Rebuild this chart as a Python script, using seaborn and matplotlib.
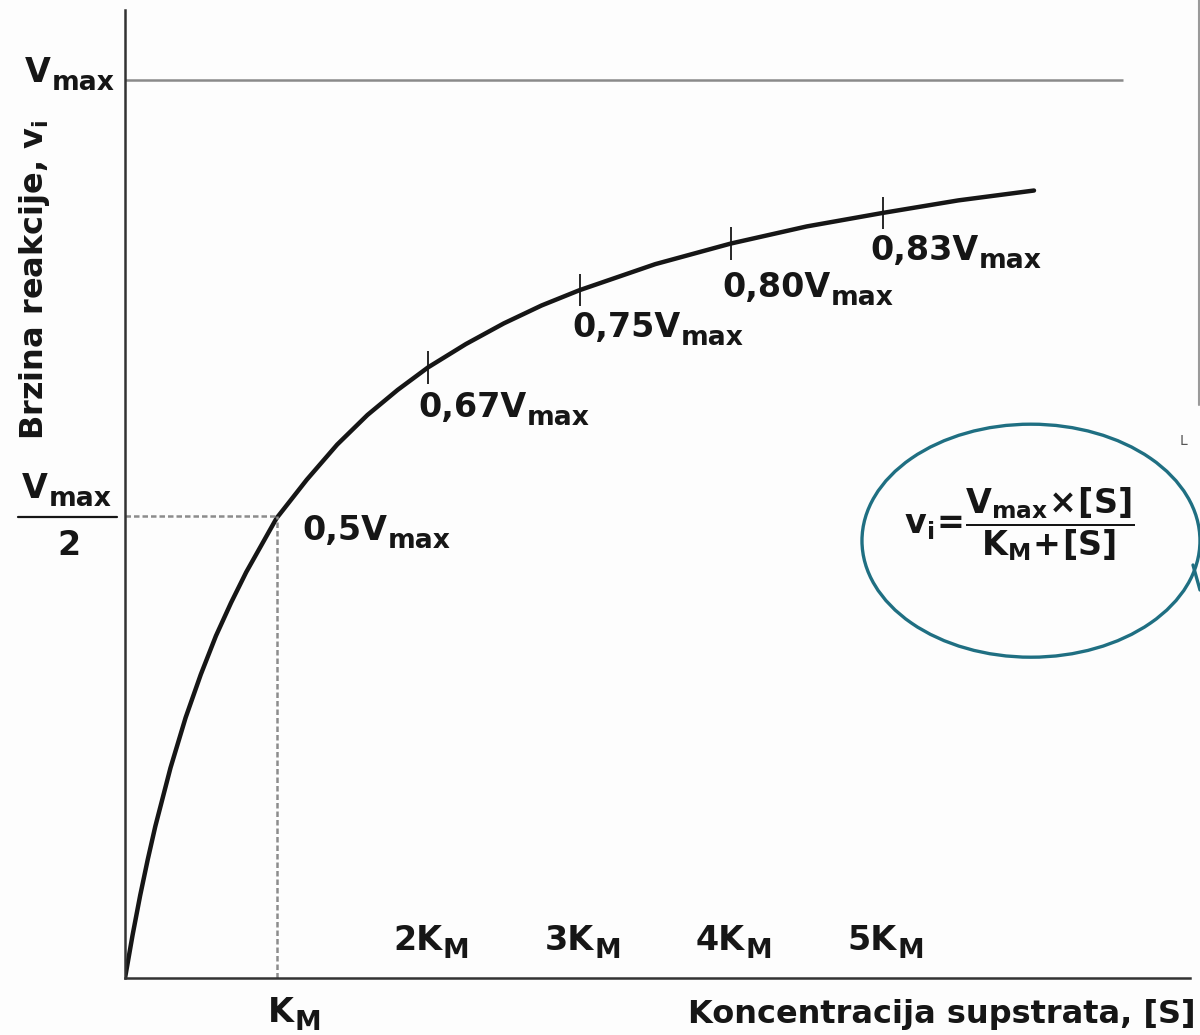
import numpy as np
import pandas as pd
import matplotlib
matplotlib.use("Agg")
import matplotlib.pyplot as plt
from matplotlib.patches import Ellipse
from matplotlib.lines import Line2D
import seaborn as sns

# --- values (S in units of KM, v in units of Vmax) ---
s_vals = [0, 0.05, 0.1, 0.15, 0.2, 0.3, 0.4, 0.5, 0.6, 0.7, 0.8, 0.9, 1.0, 1.2, 1.4, 1.6, 1.8,
          2.0, 2.25, 2.5, 2.75, 3.0, 3.5, 4.0, 4.5, 5.0, 5.5, 6.0]
v_vals = [0, 0.048, 0.092, 0.132, 0.169, 0.234, 0.290, 0.338, 0.381, 0.418, 0.452, 0.482, 0.512,
          0.555, 0.594, 0.627, 0.655, 0.680, 0.706, 0.729, 0.749, 0.766, 0.795, 0.818, 0.837,
          0.852, 0.866, 0.877]

km_v = 0.514                      # curve height at S = KM
mark_s = [2, 3, 4, 5]             # small ticks on the curve
mark_v = [0.680, 0.766, 0.818, 0.852]
mark_labels = ["0,67V", "0,75V", "0,80V", "0,83V"]
mark_label_pos = [(1.934, 0.625), (2.950, 0.714), (3.941, 0.758), (4.917, 0.800)]

x_ticks = [1, 2, 3, 4, 5, 6, 7]
top_tick_labels = ["2K", "3K", "4K", "5K"]

df = pd.DataFrame({"S": s_vals, "v": v_vals})

sns.set_style("white")
plt.rcParams["font.family"] = ["DejaVu Sans"]
plt.rcParams["font.weight"] = "bold"
plt.rcParams["mathtext.fontset"] = "dejavusans"
plt.rcParams["mathtext.default"] = "bf"

fig = plt.figure(figsize=(12, 10.35), dpi=100, facecolor="#fdfdfd")
ax = fig.add_axes([0.1042, 0.0551, 0.8875, 0.9352])
ax.set_facecolor("#fdfdfd")

ink = "#161616"
fs = 24


def sub_label(x, y, main, sub, size=fs, transform=None, scale=0.8, drop=-0.8):
    # main text plus a large, lowered subscript drawn right after it
    t = ax.text(x, y, main, fontsize=size, color=ink, ha="left", va="baseline",
                transform=transform or ax.transData, clip_on=False)
    ax.annotate(sub, xy=(1, 0), xycoords=t, xytext=(0.3, drop), textcoords="offset points",
                fontsize=size * scale, color=ink, ha="left", va="baseline", annotation_clip=False)
    return t


# curve
sns.lineplot(data=df, x="S", y="v", ax=ax, color=ink, lw=3.2, sort=False, estimator=None,
             solid_joinstyle="round", solid_capstyle="round")

# Vmax line
ax.hlines(1.0, 0, 6.59, color="#8a8a8a", lw=1.8)

# KM dashed guides
ax.hlines(km_v, 0, 1, color="#8c8c8c", lw=1.8, linestyles=(0, (2.2, 1.2)))
ax.vlines(1, 0, km_v, color="#8c8c8c", lw=1.8, linestyles=(0, (2.2, 1.2)))

# small marks on the curve
ax.vlines(mark_s, np.array(mark_v) - 0.018, np.array(mark_v) + 0.018, color=ink, lw=1.3)
for lab, (x, y) in zip(mark_labels, mark_label_pos):
    sub_label(x, y, lab, "max")
sub_label(1.168, 0.488, "0,5V", "max")

# axes
ax.set_xlim(0, 7.03)
ax.set_ylim(0, 1.078)
sns.despine(ax=ax)
for side in ["left", "bottom"]:
    ax.spines[side].set_color("#333333")
    ax.spines[side].set_linewidth(1.8)
ax.set_xticks(x_ticks)
ax.set_xticklabels([])
ax.tick_params(axis="x", direction="in", length=9, width=1.2, color="#333333")
ax.set_yticks([])
ax.set_xlabel("")
ax.set_ylabel("")

# x labels
sub_label(0.944, -0.049, "K", "M")
for s, lab in zip(x_ticks[1:5], top_tick_labels):
    sub_label(s - 0.231, 0.031, lab, "M")

# y labels
sub_label(-0.660, 0.998, "V", "max")
sub_label(-0.680, 0.5345, "V", "max")
ax.plot([-0.706, -0.053], [0.5134, 0.5134], color=ink, lw=1.6, clip_on=False)
ax.text(-0.449, 0.471, "2", fontsize=fs, color=ink, ha="left", va="baseline", clip_on=False)

fig.text(0.996, 0.0116, "Koncentracija supstrata, [S]", fontsize=23, color=ink, ha="right", va="baseline")
fig.text(0.029, 0.730, "Brzina reakcije, v$_i$", fontsize=23, color=ink, ha="center", va="center",
         rotation=90)

# formula in the ellipse
teal = "#1f6f82"
ax.add_patch(Ellipse((5.98, 0.487), 2.231, 0.2595, fill=False, edgecolor=teal, lw=2.4, clip_on=False))
ax.text(5.90, 0.506, r"$v_i\!=\!\dfrac{V_{max}\!\times\![S]}{K_M\!+\![S]}$", fontsize=24, color=ink,
        ha="center", va="center")

# leftover edges of the neighbouring screenshot
fig.add_artist(Line2D([1199 / 1200, 1199 / 1200], [1.0, 1 - 405 / 1035], color="#9a9a9a", lw=1.5))
fig.add_artist(Line2D([1193 / 1200, 1200 / 1200], [1 - 565 / 1035, 1 - 590 / 1035], color=teal, lw=2.4))
fig.text(1180 / 1200, 1 - 445 / 1035, "L", fontsize=10, color="#555555", fontweight="normal")

fig.savefig("out.png", dpi=100, facecolor=fig.get_facecolor())
